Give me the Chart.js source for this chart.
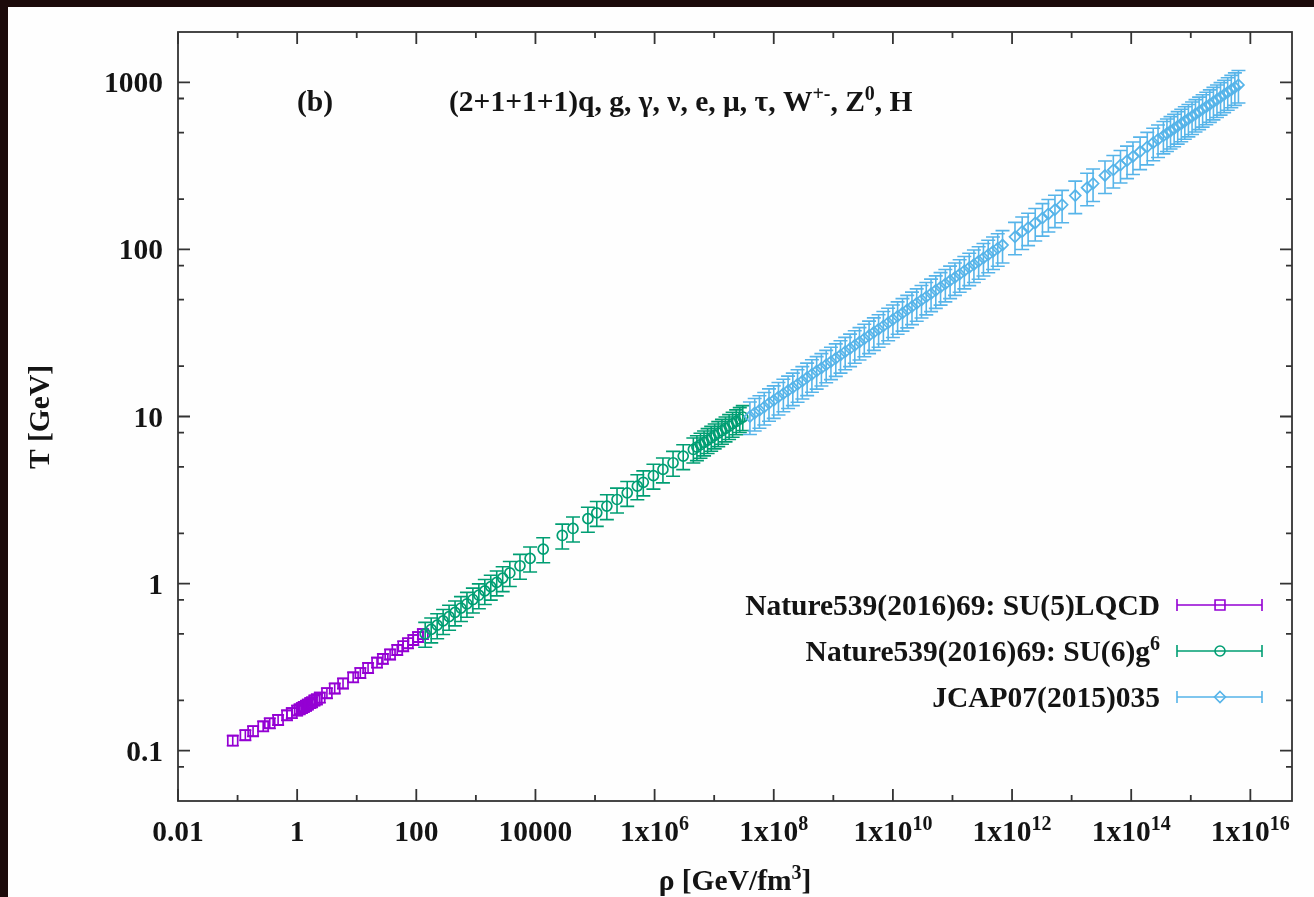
<!DOCTYPE html>
<html>
<head>
<meta charset="utf-8">
<script src="https://cdn.jsdelivr.net/npm/chart.js@4.4.1/dist/chart.umd.min.js"></script>
<style>
  html, body { margin: 0; padding: 0; background: #1c0b0b; overflow: hidden; }
  #wrap { position: absolute; left: 0; top: 0; width: 1314px; height: 897px; }
</style>
</head>
<body>
<div id="wrap"><canvas id="myChart" width="1314" height="897"></canvas></div>
<script>
// SU(5) lattice QCD (Nature 539 (2016) 69)
const lqcdRho = [0.083, 0.135, 0.182, 0.269, 0.347, 0.479, 0.676, 0.813, 1.0, 1.10, 1.20, 1.29, 1.41, 1.51, 1.66, 1.78, 1.95, 2.14, 2.40, 3.16, 4.27, 5.89, 8.71, 11.5, 15.5, 21.9, 27.5, 36.3, 47.9, 60.3, 72.4, 89.1, 107, 129];
const lqcdT = [0.115, 0.124, 0.131, 0.140, 0.146, 0.153, 0.163, 0.168, 0.174, 0.177, 0.180, 0.183, 0.186, 0.189, 0.193, 0.195, 0.200, 0.203, 0.208, 0.221, 0.236, 0.253, 0.275, 0.292, 0.313, 0.337, 0.355, 0.377, 0.401, 0.422, 0.440, 0.460, 0.479, 0.499];
const lqcdErr = 0.07;

// SU(6) g^6 (Nature 539 (2016) 69)
const g6Rho = [141, 178, 224, 282, 355, 447, 562, 708, 891, 1122, 1413, 1778, 2239, 2818, 3715, 5495, 8128, 13490, 28180, 42660, 75860, 1.07e5, 1.58e5, 2.34e5, 3.47e5, 5.13e5, 6.46e5, 9.55e5, 1.38e6, 2.04e6, 3.02e6, 4.47e6, 5.13e6, 5.89e6, 6.76e6, 7.76e6, 8.91e6, 1.02e7, 1.17e7, 1.35e7, 1.55e7, 1.78e7, 2.04e7, 2.34e7, 2.69e7, 3.02e7];
const g6T = [0.501, 0.532, 0.564, 0.598, 0.634, 0.673, 0.714, 0.757, 0.803, 0.852, 0.904, 0.959, 1.017, 1.079, 1.158, 1.279, 1.415, 1.607, 1.941, 2.138, 2.447, 2.652, 2.909, 3.187, 3.493, 3.828, 4.038, 4.426, 4.824, 5.287, 5.794, 6.350, 6.56, 6.78, 7.00, 7.23, 7.46, 7.71, 7.96, 8.22, 8.49, 8.77, 9.06, 9.36, 9.66, 9.93];
const g6Err = 0.17;

// JCAP07 (2015) 035
const jcapRho = [3.98e7, 4.79e7, 5.75e7, 6.92e7, 8.32e7, 1.0e8, 1.20e8, 1.45e8, 1.74e8, 2.09e8, 2.51e8, 3.02e8, 3.63e8, 4.37e8, 5.25e8, 6.31e8, 7.59e8, 9.12e8, 1.10e9, 1.32e9, 1.58e9, 1.91e9, 2.29e9, 2.75e9, 3.31e9, 3.98e9, 4.79e9, 5.75e9, 6.92e9, 8.32e9, 1.0e10, 1.20e10, 1.45e10, 1.74e10, 2.09e10, 2.51e10, 3.02e10, 3.63e10, 4.37e10, 5.25e10, 6.31e10, 7.59e10, 9.12e10, 1.10e11, 1.32e11, 1.58e11, 1.91e11, 2.29e11, 2.75e11, 3.31e11, 3.98e11, 4.79e11, 5.75e11, 6.92e11,
  1.12e12, 1.48e12, 1.86e12, 2.45e12, 3.24e12, 4.07e12, 5.25e12, 6.92e12, 1.15e13, 1.82e13, 2.29e13, 3.63e13, 5.01e13, 6.61e13, 8.51e13, 1.07e14, 1.41e14, 1.86e14, 2.34e14, 2.82e14, 3.47e14, 3.98e14, 4.57e14, 5.25e14, 6.03e14, 6.92e14, 7.94e14, 9.12e14, 1.05e15, 1.20e15, 1.38e15, 1.58e15, 1.82e15, 2.09e15, 2.40e15, 2.75e15, 3.16e15, 3.63e15, 4.17e15, 4.79e15, 5.50e15, 6.31e15];
const jcapT = [10.0, 10.5, 10.9, 11.4, 12.0, 12.5, 13.1, 13.7, 14.3, 14.9, 15.6, 16.3, 17.1, 17.9, 18.7, 19.5, 20.4, 21.3, 22.3, 23.3, 24.4, 25.5, 26.7, 27.9, 29.2, 30.5, 31.9, 33.3, 34.8, 36.4, 38.1, 39.8, 41.6, 43.5, 45.5, 47.6, 49.8, 52.0, 54.4, 56.9, 59.5, 62.2, 65.1, 68.0, 71.1, 74.4, 77.8, 81.3, 85.0, 88.9, 92.9, 97.2, 101.6, 106.2,
  119, 128, 135, 144, 154, 163, 173, 185, 210, 234, 248, 277, 299, 320, 340, 360, 385, 411, 435, 455, 478, 494, 511, 528, 547, 565, 585, 604, 625, 646, 668, 691, 714, 738, 764, 789, 816, 844, 873, 902, 933, 964];
const jcapErr = 0.22;

// axes
const xRange = [0.01, 5e16];
const yRange = [0.05, 2000];
const xMajorTicks = [0.01, 1, 100, 1e4, 1e6, 1e8, 1e10, 1e12, 1e14, 1e16];
const xTickLabels = ['0.01', '1', '100', '10000', '1x10^{6}', '1x10^{8}', '1x10^{10}', '1x10^{12}', '1x10^{14}', '1x10^{16}'];
const xMinorTicks = [0.1, 10, 1000, 1e5, 1e7, 1e9, 1e11, 1e13, 1e15];
const yMajorTicks = [0.1, 1, 10, 100, 1000];
const yTickLabels = ['0.1', '1', '10', '100', '1000'];
const yMinorTicks = [0.08, 0.2, 0.5, 0.8, 2, 5, 8, 20, 50, 80, 200, 500, 800];

const titleLabel = '(b)';
const titleText = '(2+1+1+1)q, g, \u03b3, \u03bd, e, \u03bc, \u03c4, W^{+-}, Z^{0}, H';
const xTitle = '\u03c1 [GeV/fm^{3}]';
const yTitle = 'T [GeV]';

const FONT = 'bold 29.5px "Liberation Serif"';
const SUP_FONT = 'bold 20px "Liberation Serif"';
const INK = '#141414';

function toPoints(xs, ys, rel) {
    return xs.map((x, i) => ({ x: x, y: ys[i], err: ys[i] * rel }));
}

function richParts(s) {
    const parts = [];
    const re = /\^\{([^}]*)\}/g;
    let last = 0, m;
    while ((m = re.exec(s))) {
        if (m.index > last) parts.push({ t: s.slice(last, m.index), sup: false });
        parts.push({ t: m[1], sup: true });
        last = re.lastIndex;
    }
    if (last < s.length) parts.push({ t: s.slice(last), sup: false });
    return parts;
}

function drawRich(ctx, s, x, y, align) {
    const parts = richParts(s);
    let w = 0;
    parts.forEach(p => {
        ctx.font = p.sup ? SUP_FONT : FONT;
        p.w = ctx.measureText(p.t).width;
        w += p.w;
    });
    let cx = align === 'center' ? x - w / 2 : (align === 'right' ? x - w : x);
    ctx.textAlign = 'left';
    parts.forEach(p => {
        ctx.font = p.sup ? SUP_FONT : FONT;
        ctx.fillText(p.t, cx, p.sup ? y - 11 : y);
        cx += p.w;
    });
}

function drawMarker(ctx, style, x, y, r) {
    ctx.beginPath();
    if (style === 'rect') {
        const s = r * Math.SQRT1_2;
        ctx.rect(x - s, y - s, 2 * s, 2 * s);
    } else if (style === 'rectRot') {
        ctx.moveTo(x, y - r); ctx.lineTo(x + r, y); ctx.lineTo(x, y + r); ctx.lineTo(x - r, y); ctx.closePath();
    } else {
        ctx.arc(x, y, r, 0, Math.PI * 2);
    }
    ctx.stroke();
}

// background with the dark edge of the scan
const paper = {
    id: 'paper',
    beforeDraw(chart) {
        const ctx = chart.ctx;
        ctx.save();
        ctx.fillStyle = '#1c0b0b';
        ctx.fillRect(0, 0, chart.width, chart.height);
        ctx.fillStyle = '#fefefe';
        ctx.fillRect(8, 7, chart.width - 8, chart.height - 7);
        ctx.restore();
    }
};

// vertical error bars with caps, drawn under each dataset's points
const errorBars = {
    id: 'errorBars',
    beforeDatasetDraw(chart, args) {
        const ds = chart.data.datasets[args.index];
        const yScale = chart.scales.y;
        const area = chart.chartArea;
        const ctx = chart.ctx;
        const cap = ds.capHalf;
        ctx.save();
        ctx.beginPath();
        ctx.rect(area.left, area.top, area.right - area.left, area.bottom - area.top);
        ctx.clip();
        ctx.strokeStyle = ds.borderColor;
        ctx.lineWidth = 1.6;
        ctx.beginPath();
        args.meta.data.forEach((pt, i) => {
            const d = ds.data[i];
            const yt = yScale.getPixelForValue(d.y + d.err);
            const yb = yScale.getPixelForValue(d.y - d.err);
            ctx.moveTo(pt.x, yt); ctx.lineTo(pt.x, yb);
            ctx.moveTo(pt.x - cap, yt); ctx.lineTo(pt.x + cap, yt);
            ctx.moveTo(pt.x - cap, yb); ctx.lineTo(pt.x + cap, yb);
        });
        ctx.stroke();
        ctx.restore();
    }
};

// gnuplot style frame, ticks, labels and key
const frame = {
    id: 'frame',
    afterDraw(chart) {
        const ctx = chart.ctx;
        const a = chart.chartArea;
        const xs = chart.scales.x, ys = chart.scales.y;
        ctx.save();
        ctx.strokeStyle = '#333333';
        ctx.lineWidth = 1.8;
        ctx.strokeRect(a.left, a.top, a.right - a.left, a.bottom - a.top);

        ctx.beginPath();
        const tick = (px, len, horiz) => {
            if (horiz) {
                ctx.moveTo(px, a.bottom); ctx.lineTo(px, a.bottom - len);
                ctx.moveTo(px, a.top); ctx.lineTo(px, a.top + len);
            } else {
                ctx.moveTo(a.left, px); ctx.lineTo(a.left + len, px);
                ctx.moveTo(a.right, px); ctx.lineTo(a.right - len, px);
            }
        };
        xMajorTicks.forEach(v => tick(xs.getPixelForValue(v), 12, true));
        xMinorTicks.forEach(v => tick(xs.getPixelForValue(v), 6, true));
        yMajorTicks.forEach(v => tick(ys.getPixelForValue(v), 12, false));
        yMinorTicks.forEach(v => tick(ys.getPixelForValue(v), 6, false));
        ctx.stroke();

        ctx.fillStyle = INK;
        ctx.textBaseline = 'alphabetic';
        xMajorTicks.forEach((v, i) => drawRich(ctx, xTickLabels[i], xs.getPixelForValue(v), a.bottom + 40, 'center'));
        yMajorTicks.forEach((v, i) => drawRich(ctx, yTickLabels[i], a.left - 15, ys.getPixelForValue(v) + 10, 'right'));

        drawRich(ctx, xTitle, 735, 890, 'center');
        ctx.save();
        ctx.translate(49, 417);
        ctx.rotate(-Math.PI / 2);
        drawRich(ctx, yTitle, 0, 0, 'center');
        ctx.restore();

        drawRich(ctx, titleLabel, 315, 111, 'center');
        drawRich(ctx, titleText, 449, 111, 'left');

        // key
        const rows = [605, 651, 697];
        chart.data.datasets.forEach((ds, i) => {
            const y = rows[i];
            ctx.fillStyle = INK;
            drawRich(ctx, ds.label, 1160, y + 10, 'right');
            ctx.strokeStyle = ds.borderColor;
            ctx.lineWidth = 1.6;
            ctx.beginPath();
            ctx.moveTo(1177, y); ctx.lineTo(1262, y);
            ctx.moveTo(1177, y - 6); ctx.lineTo(1177, y + 6);
            ctx.moveTo(1262, y - 6); ctx.lineTo(1262, y + 6);
            ctx.stroke();
            drawMarker(ctx, ds.pointStyle, 1220, y, ds.pointRadius);
        });
        ctx.restore();
    }
};

const ctx = document.getElementById('myChart').getContext('2d');
const chart = new Chart(ctx, {
    type: 'scatter',
    data: {
        datasets: [
            {
                label: 'Nature539(2016)69: SU(5)LQCD',
                data: toPoints(lqcdRho, lqcdT, lqcdErr),
                pointStyle: 'rect', pointRadius: 7, capHalf: 6,
                borderColor: '#9400d3', backgroundColor: 'rgba(0,0,0,0)', pointBorderWidth: 1.7,
                order: 3
            },
            {
                label: 'Nature539(2016)69: SU(6)g^{6}',
                data: toPoints(g6Rho, g6T, g6Err),
                pointStyle: 'circle', pointRadius: 5, capHalf: 7,
                borderColor: '#009e73', backgroundColor: 'rgba(0,0,0,0)', pointBorderWidth: 1.7,
                order: 2
            },
            {
                label: 'JCAP07(2015)035',
                data: toPoints(jcapRho, jcapT, jcapErr),
                pointStyle: 'rectRot', pointRadius: 5.5, capHalf: 7,
                borderColor: '#56b4e9', backgroundColor: 'rgba(0,0,0,0)', pointBorderWidth: 1.7,
                order: 1
            }
        ]
    },
    options: {
        responsive: false,
        animation: false,
        devicePixelRatio: 1,
        events: [],
        layout: { padding: { left: 178, top: 32, right: 22, bottom: 96 } },
        plugins: { legend: { display: false }, tooltip: { enabled: false } },
        scales: {
            x: { type: 'logarithmic', min: xRange[0], max: xRange[1], display: false },
            y: { type: 'logarithmic', min: yRange[0], max: yRange[1], display: false }
        }
    },
    plugins: [paper, errorBars, frame]
});
</script>
</body>
</html>
